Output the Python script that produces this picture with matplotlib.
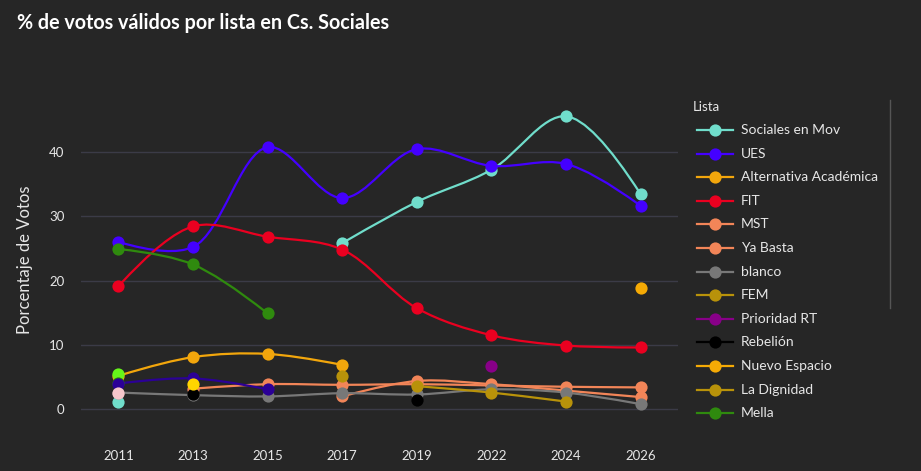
import numpy as np
import matplotlib
matplotlib.use("Agg")
import matplotlib.pyplot as plt
from matplotlib.path import Path
from matplotlib.patches import PathPatch
from matplotlib.lines import Line2D

# --- datos ---
anios = ["2011", "2013", "2015", "2017", "2019", "2022", "2024", "2026"]
nan = np.nan

sociales_en_mov = [1.2, nan, nan, 25.8, 32.2, 37.2, 45.5, 33.4]
ues = [26.0, 25.2, 40.7, 32.8, 40.4, 37.8, 38.1, 31.6]
alternativa_academica = [5.2, 8.1, 8.6, 6.9, nan, nan, nan, nan]
fit = [19.1, 28.4, 26.8, 24.8, 15.7, 11.5, 9.9, 9.6]
mst = [nan, 3.2, 3.9, 3.8, 3.9, 3.7, 3.5, 3.4]
ya_basta = [nan, nan, nan, 2.0, 4.4, 3.9, 2.9, 1.9]
blanco = [2.6, 2.2, 2.0, 2.5, 2.3, 3.1, 2.6, 0.8]
fem = [nan, nan, nan, 5.2, nan, nan, nan, nan]
prioridad_rt = [nan, nan, nan, nan, nan, 6.8, nan, nan]
rebelion = [nan, 2.3, nan, nan, 1.4, nan, nan, nan]
nuevo_espacio = [nan, nan, nan, nan, nan, nan, nan, 18.8]
la_dignidad = [nan, nan, nan, nan, 3.6, 2.6, 1.2, nan]
mella = [24.9, 22.5, 14.9, nan, nan, nan, nan, nan]
# listas que quedan fuera de la parte visible de la leyenda
extra_verde_claro = [5.5, nan, nan, nan, nan, nan, nan, nan]
extra_verde_osc = [4.1, nan, nan, nan, nan, nan, nan, nan]
extra_indigo = [4.0, 4.8, 3.1, nan, nan, nan, nan, nan]
extra_rosa = [2.5, nan, nan, nan, nan, nan, nan, nan]
extra_amarillo = [nan, 3.9, nan, nan, nan, nan, nan, nan]

series = [
    ("Sociales en Mov", sociales_en_mov, "#70DDCB"),
    ("UES", ues, "#4400FF"),
    ("Alternativa Académica", alternativa_academica, "#F2A60C"),
    ("FIT", fit, "#EA0020"),
    ("MST", mst, "#F28558"),
    ("Ya Basta", ya_basta, "#F28558"),
    ("blanco", blanco, "#787878"),
    ("FEM", fem, "#B8920A"),
    ("Prioridad RT", prioridad_rt, "#880088"),
    ("Rebelión", rebelion, "#000000"),
    ("Nuevo Espacio", nuevo_espacio, "#F5AA05"),
    ("La Dignidad", la_dignidad, "#B8920A"),
    ("Mella", mella, "#2F8A0E"),
]
series_ocultas = [
    (extra_verde_claro, "#66F51A"),
    (extra_verde_osc, "#2C7A10"),
    (extra_indigo, "#2B0096"),
    (extra_rosa, "#F5C6CB"),
    (extra_amarillo, "#FFD500"),
]

# --- estilo ---
W, H = 921, 471
BG = "#262626"
GRID = "#3B3B47"
TXT = "#E6E6E6"
FONT = ["Lato", "DejaVu Sans"]
plt.rcParams["font.family"] = FONT

# area del grafico en pixeles
AX_L, AX_R, AX_T, AX_B = 81, 678, 90, 437
Y0_PX, PX_POR_10 = 409.3, 64.4
SX = (AX_R - AX_L) / len(anios)
SY = PX_POR_10 / 10.0


def px(x, y):
    return x / W, 1 - y / H


def tangente(p0, p1, p2, s=1.0):
    d1 = p0 - p1
    d2 = p2 - p1
    d1a = np.hypot(*d1) ** 0.5
    d2a = np.hypot(*d2) ** 0.5
    num = (d2a * d2a * d1 - d1a * d1a * d2) * s
    den1 = 3 * d2a * (d1a + d2a)
    den2 = 3 * d1a * (d1a + d2a)
    return p1 + num / den1, p1 - num / den2


def camino_spline(xs, ys):
    """curva suave tipo plotly (catmull-rom), calculada en espacio de pixeles"""
    pts = np.column_stack([np.asarray(xs) * SX, np.asarray(ys) * SY])
    n = len(pts)
    if n < 3:
        return Path(np.column_stack([xs, ys]))
    tg = [tangente(pts[i - 1], pts[i], pts[i + 1]) for i in range(1, n - 1)]
    verts = [pts[0], tg[0][0], pts[1]]
    codes = [Path.MOVETO, Path.CURVE3, Path.CURVE3]
    for i in range(2, n - 1):
        verts += [tg[i - 2][1], tg[i - 1][0], pts[i]]
        codes += [Path.CURVE4] * 3
    verts += [tg[n - 3][1], pts[n - 1]]
    codes += [Path.CURVE3] * 2
    verts = np.array(verts) / [SX, SY]
    return Path(verts, codes)


def dibujar(ax, valores, color):
    x = np.arange(len(anios))
    y = np.array(valores, dtype=float)
    ok = ~np.isnan(y)
    # segmentos consecutivos sin huecos
    tramo = []
    for i in range(len(y) + 1):
        if i < len(y) and ok[i]:
            tramo.append(i)
        else:
            if len(tramo) >= 2:
                p = camino_spline(x[tramo], y[tramo])
                ax.add_patch(PathPatch(p, facecolor="none", edgecolor=color,
                                       lw=1.6, zorder=2, capstyle="round"))
            tramo = []
    ax.plot(x[ok], y[ok], "o", color=color, ms=8.8, mec="none", zorder=3)


fig = plt.figure(figsize=(W / 100, H / 100), dpi=100, facecolor=BG)
ax = fig.add_axes([AX_L / W, 1 - AX_B / H, (AX_R - AX_L) / W, (AX_B - AX_T) / H])
ax.set_facecolor(BG)

for nombre, vals, col in series:
    dibujar(ax, vals, col)
for vals, col in series_ocultas:
    dibujar(ax, vals, col)

ax.set_xlim(-0.5, len(anios) - 0.5)
ymin = -(AX_B - Y0_PX) / SY
ymax = (Y0_PX - AX_T) / SY
ax.set_ylim(ymin, ymax)
ax.set_xticks(range(len(anios)))
ax.set_xticklabels(anios)
ax.set_yticks([0, 10, 20, 30, 40])
ax.tick_params(colors=TXT, labelsize=9.5, length=0)
ax.tick_params(axis="x", pad=9)
ax.tick_params(axis="y", pad=12)
ax.grid(axis="y", color=GRID, lw=1)
ax.set_axisbelow(True)
for s in ax.spines.values():
    s.set_visible(False)

fig.text(*px(25, 260), "Porcentaje de Votos", rotation=90, color=TXT,
         fontsize=12, ha="center", va="center")
fig.text(*px(17, 23), "% de votos válidos por lista en Cs. Sociales",
         color="white", fontsize=14.2, fontweight="bold", ha="left", va="center")

# leyenda (parte visible)
fig.text(*px(693, 107), "Lista", color=TXT, fontsize=9.5, ha="left", va="center")
for i, (nombre, vals, col) in enumerate(series):
    yy = 130 + i * 23.6
    fig.add_artist(Line2D([697 / W, 733 / W], [1 - yy / H] * 2, color=col, lw=1.6))
    fig.add_artist(Line2D([715 / W], [1 - yy / H], marker="o", color=col, ms=8.8, mec="none"))
    fig.text(*px(741, yy), nombre, color=TXT, fontsize=10, ha="left", va="center")
# barra de desplazamiento de la leyenda
fig.add_artist(Line2D([890 / W] * 2, [1 - 100 / H, 1 - 308 / H], color="#555555", lw=1))

fig.savefig("out.png", dpi=100, facecolor=BG)
